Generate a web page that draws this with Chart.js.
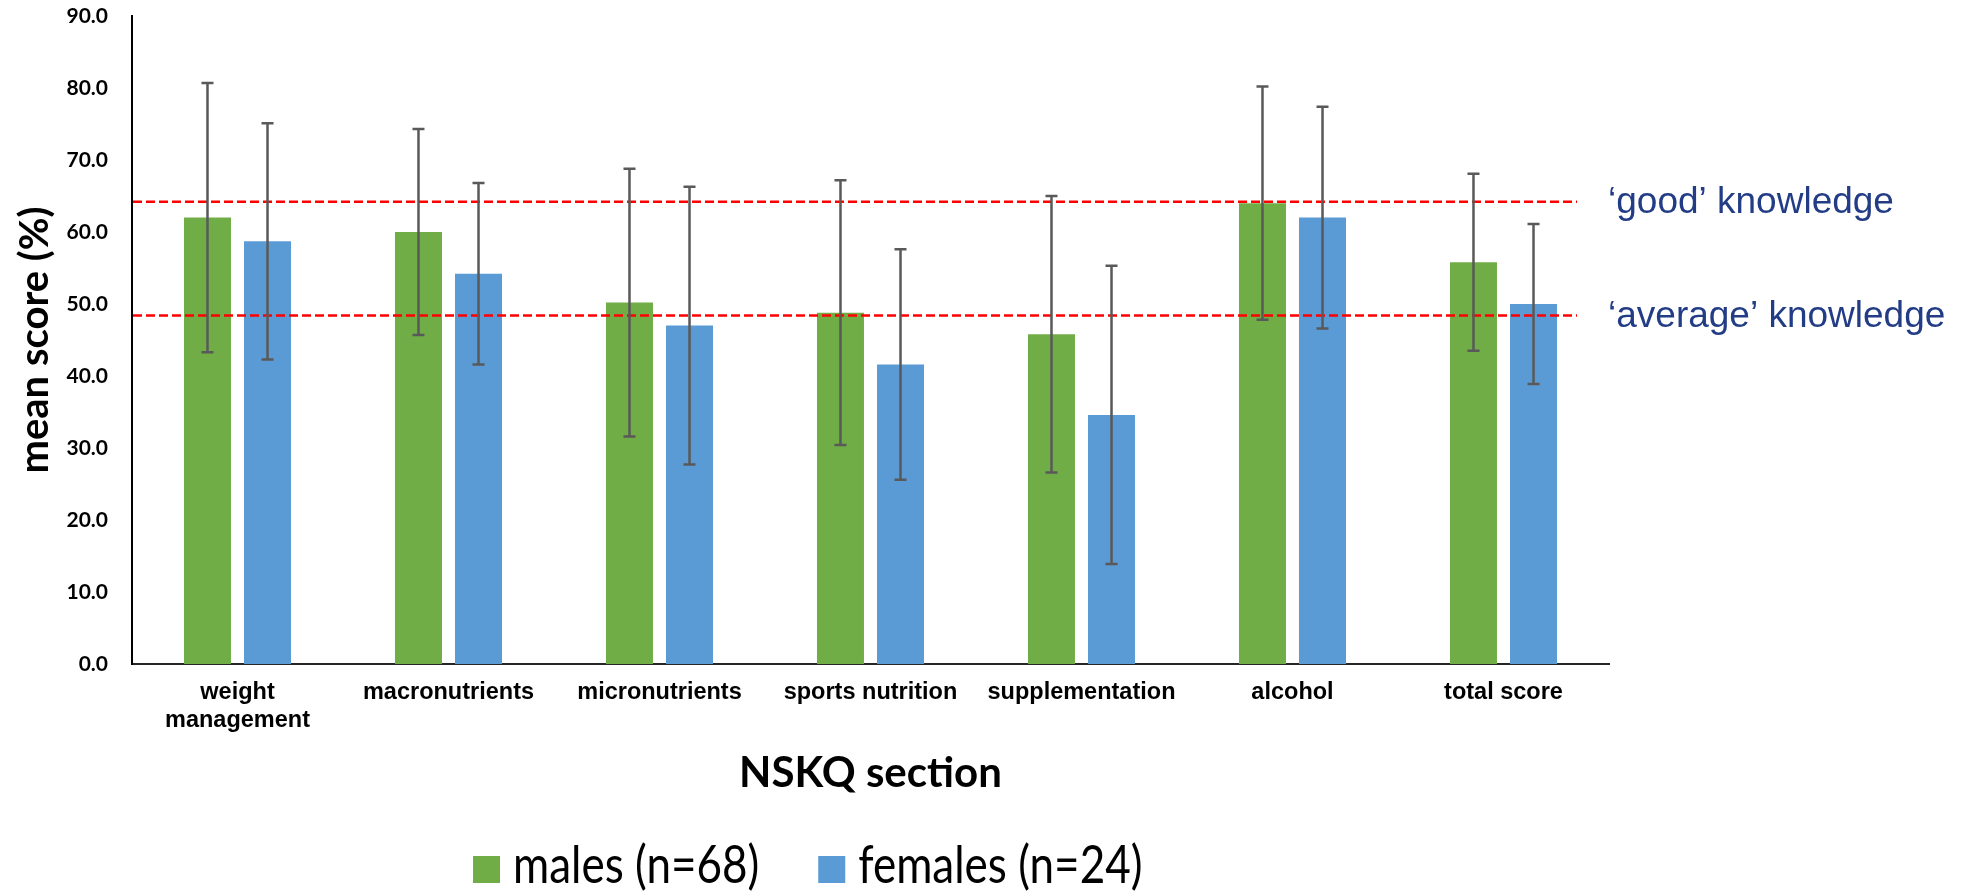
<!DOCTYPE html>
<html>
<head>
<meta charset="utf-8">
<title>NSKQ section scores</title>
<script src="https://cdn.jsdelivr.net/npm/chart.js@4.4.1/dist/chart.umd.min.js"></script>
<style>
    html, body { margin: 0; padding: 0; background: #fff; }
    #wrap { width: 1975px; height: 893px; position: relative; }
</style>
</head>
<body>
<div id="wrap"><canvas id="score-chart"></canvas></div>
<script>
const sections = [['weight', 'management'], 'macronutrients', 'micronutrients', 'sports nutrition', 'supplementation', 'alcohol', 'total score'];
const maleMeans = [62.0, 60.0, 50.2, 48.8, 45.8, 64.0, 55.8];
const maleSD = [18.7, 14.3, 18.6, 18.4, 19.2, 16.2, 12.3];
const femaleMeans = [58.7, 54.2, 47.0, 41.6, 34.6, 62.0, 50.0];
const femaleSD = [16.4, 12.6, 19.3, 16.0, 20.7, 15.4, 11.1];
const seriesNames = ['males (n=68)', 'females (n=24)'];
const knowledgeLevels = [64.2, 48.4];
const knowledgeLabels = ['\u2018good\u2019 knowledge', '\u2018average\u2019 knowledge'];

// red dashed threshold lines + their labels on the right
const refLines = {
    id: 'refLines',
    afterDatasetsDraw(chart) {
        const { ctx, chartArea } = chart;
        const y = chart.scales.y;
        ctx.save();
        knowledgeLevels.forEach((v, i) => {
            const py = y.getPixelForValue(v);
            ctx.strokeStyle = '#ff0000';
            ctx.lineWidth = 2.5;
            ctx.setLineDash([9, 4]);
            ctx.beginPath();
            ctx.moveTo(chartArea.left + 1, py);
            ctx.lineTo(chartArea.right - 32, py);
            ctx.stroke();
            ctx.setLineDash([]);
            ctx.fillStyle = '#233c86';
            ctx.font = '37px "Liberation Sans", Arial, sans-serif';
            ctx.textBaseline = 'alphabetic';
            ctx.textAlign = 'left';
            ctx.fillText(knowledgeLabels[i], chartArea.right - 1, py + 11);
        });
        ctx.restore();
    }
};

// SD whiskers on each bar
const errorBars = {
    id: 'errorBars',
    afterDatasetsDraw(chart) {
        const { ctx } = chart;
        const y = chart.scales.y;
        ctx.save();
        ctx.strokeStyle = '#595959';
        ctx.lineWidth = 2.5;
        chart.data.datasets.forEach((ds, i) => {
            chart.getDatasetMeta(i).data.forEach((bar, j) => {
                const m = ds.data[j];
                const sd = ds.sd[j];
                const top = y.getPixelForValue(m + sd);
                const bot = y.getPixelForValue(m - sd);
                ctx.beginPath();
                ctx.moveTo(bar.x, top);
                ctx.lineTo(bar.x, bot);
                ctx.moveTo(bar.x - 6, top);
                ctx.lineTo(bar.x + 6, top);
                ctx.moveTo(bar.x - 6, bot);
                ctx.lineTo(bar.x + 6, bot);
                ctx.stroke();
            });
        });
        ctx.restore();
    }
};

// legend row at the bottom (text is a bit tall in the original)
const legendRow = {
    id: 'legendRow',
    afterDraw(chart) {
        const { ctx } = chart;
        ctx.save();
        ctx.font = '44px Lato, sans-serif';
        ctx.textBaseline = 'alphabetic';
        ctx.textAlign = 'left';
        const base = 883;
        let x = 473;
        chart.data.datasets.forEach(ds => {
            ctx.fillStyle = ds.backgroundColor;
            ctx.fillRect(x, base - 27, 27, 27);
            x += 40;
            ctx.fillStyle = '#000';
            ctx.save();
            ctx.translate(x, base);
            ctx.scale(1, 1.2);
            ctx.fillText(ds.label, 0, 0);
            ctx.restore();
            x += ctx.measureText(ds.label).width + 59;
        });
        ctx.restore();
    }
};

const ctx = document.getElementById('score-chart').getContext('2d');
const chart = new Chart(ctx, {
    type: 'bar',
    data: {
        labels: sections,
        datasets: [
            {
                label: seriesNames[0],
                data: maleMeans,
                sd: maleSD,
                backgroundColor: '#70ad47',
                categoryPercentage: 0.569,
                barPercentage: 0.783
            },
            {
                label: seriesNames[1],
                data: femaleMeans,
                sd: femaleSD,
                backgroundColor: '#5b9bd5',
                categoryPercentage: 0.569,
                barPercentage: 0.783
            }
        ]
    },
    options: {
        responsive: true,
        maintainAspectRatio: false,
        animation: false,
        layout: {
            padding: { left: 0, right: 366, top: 16, bottom: 89 }
        },
        plugins: {
            legend: { display: false },
            tooltip: { enabled: false }
        },
        scales: {
            x: {
                grid: { display: false, drawTicks: false },
                border: { display: true, color: '#262626', width: 2 },
                ticks: {
                    color: '#000',
                    padding: 14,
                    maxRotation: 0,
                    autoSkip: false,
                    font: { family: '"Liberation Sans", Arial, sans-serif', size: 23.5, weight: 'bold', lineHeight: 1.2 }
                },
                title: {
                    display: true,
                    text: 'NSKQ section',
                    color: '#000',
                    font: { family: 'Lato, sans-serif', size: 42, weight: 'bold', lineHeight: 1.2 },
                    padding: { top: 0, bottom: 5 }
                },
                afterFit(scale) { scale.height = 140; }
            },
            y: {
                min: 0,
                max: 90,
                grid: { display: false, drawTicks: false },
                border: { display: true, color: '#000', width: 2 },
                ticks: {
                    stepSize: 10,
                    padding: 24,
                    color: '#000',
                    font: { family: 'Lato, sans-serif', size: 21, weight: 'bold' },
                    callback: v => v.toFixed(1)
                },
                title: {
                    display: true,
                    text: 'mean score (%)',
                    color: '#000',
                    font: { family: 'Lato, sans-serif', size: 40, weight: 'bold', lineHeight: 1.2 },
                    padding: { top: 11, bottom: 0 }
                },
                afterFit(scale) {
                    scale.width = 132;
                    // keep tick padding from pushing the plot down
                    scale.paddingTop = 0;
                    scale.paddingBottom = 0;
                }
            }
        }
    },
    plugins: [refLines, errorBars, legendRow]
});
</script>
</body>
</html>
